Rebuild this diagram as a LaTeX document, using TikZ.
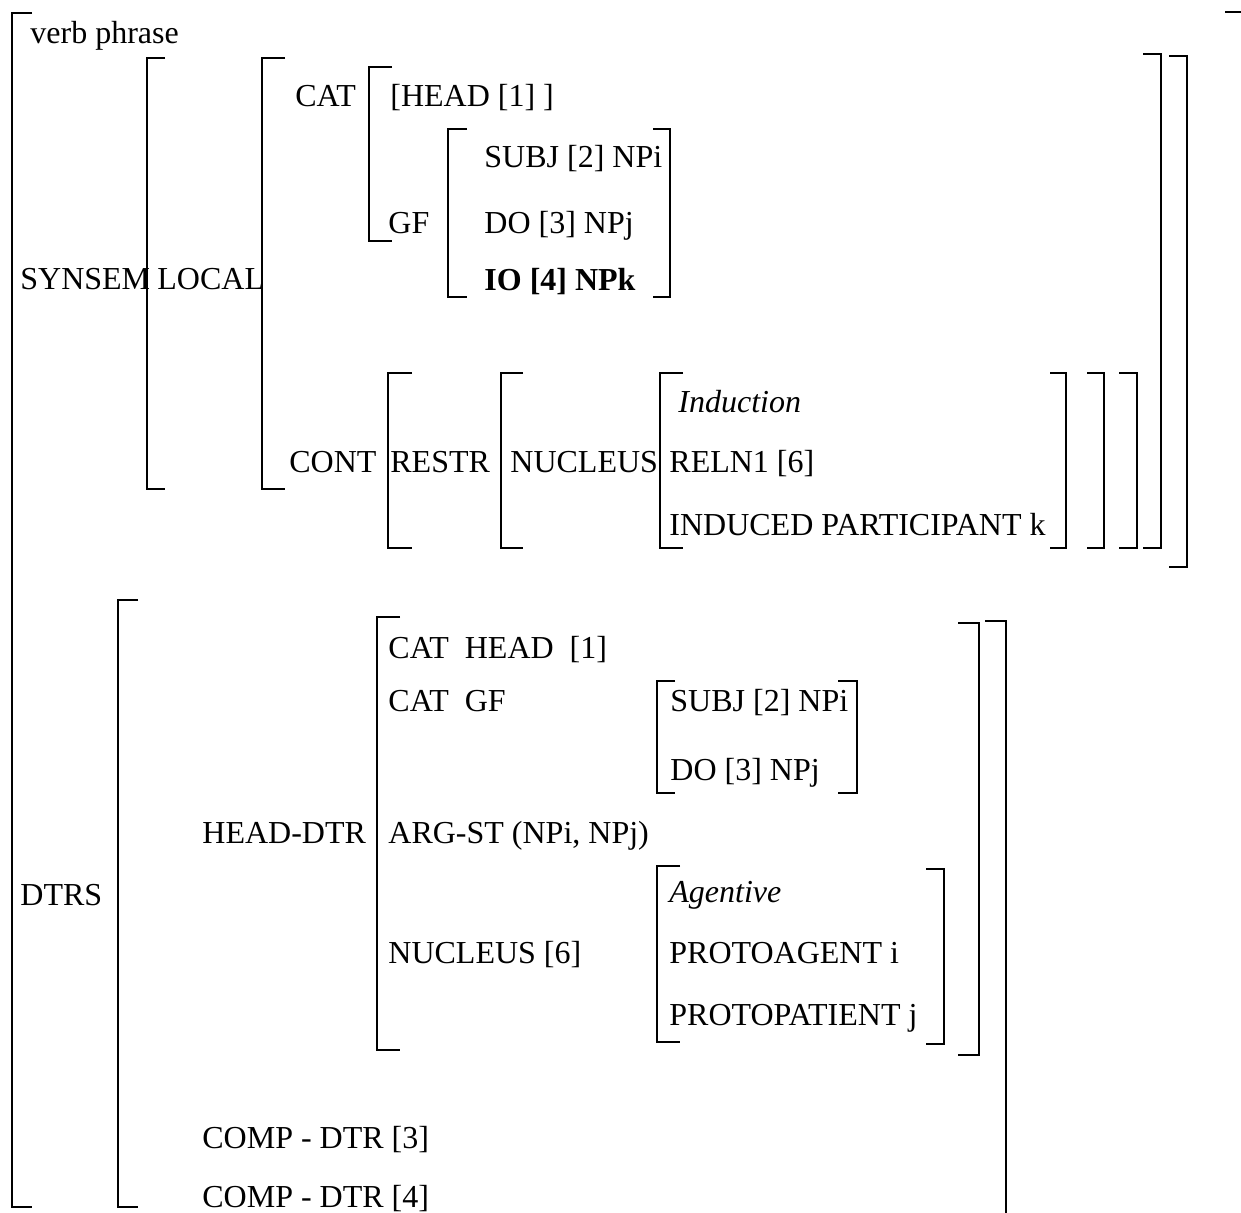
\documentclass[tikz,border=0pt]{standalone}
\usepackage{fontspec}
\setmainfont{Liberation Serif}

\begin{document}
\begin{tikzpicture}[
    x=0.5pt, y=-0.5pt,
    mytext/.style={anchor=base west, inner sep=0pt, font={\fontsize{16pt}{19pt}\selectfont}},
    br/.style={line width=1pt}
    ]
    \useasboundingbox (0,0) rectangle (1241,1212);

    % SYNSEM part
    \node[mytext] (vp) at (30,43) {verb phrase};
    \node[mytext] (synsem) at (20,289) {SYNSEM};
    \node[mytext] (local) at (157,289) {LOCAL};
    \node[mytext] (cat) at (295,106) {CAT};
    \node[mytext] (head) at (390,106) {[HEAD [1] ]};
    \node[mytext] (gf) at (388,233) {GF};
    \node[mytext] (subj) at (484,167) {SUBJ [2] NPi};
    \node[mytext] (do) at (484,233) {DO [3] NPj};
    \node[mytext] (io) at (484,290) {\textbf{IO [4] NPk}};
    \node[mytext] (cont) at (289,472) {CONT};
    \node[mytext] (restr) at (390,472) {RESTR};
    \node[mytext] (nucleus) at (510,472) {NUCLEUS};
    \node[mytext] (induction) at (678,412) {\textit{Induction}};
    \node[mytext] (reln) at (669,472) {RELN1 [6]};
    \node[mytext] (induced) at (669,535) {INDUCED PARTICIPANT k};

    % DTRS part
    \node[mytext] (dtrs) at (20,905) {DTRS};
    \node[mytext] (headdtr) at (202,843) {HEAD-DTR};
    \node[mytext] (cathead) at (388,658) {CAT\ \ HEAD\ \ [1]};
    \node[mytext] (catgf) at (388,711) {CAT\ \ GF};
    \node[mytext] (subj2) at (670,711) {SUBJ [2] NPi};
    \node[mytext] (do2) at (670,780) {DO [3] NPj};
    \node[mytext] (argst) at (388,843) {ARG-ST (NPi, NPj)};
    \node[mytext] (nucleus2) at (388,963) {NUCLEUS [6]};
    \node[mytext] (agentive) at (669,902) {\textit{Agentive}};
    \node[mytext] (protoag) at (669,963) {PROTOAGENT i};
    \node[mytext] (protopat) at (669,1025) {PROTOPATIENT j};
    \node[mytext] (comp3) at (202,1148) {COMP - DTR [3]};
    \node[mytext] (comp4) at (202,1207) {COMP - DTR [4]};

    % left brackets
    \draw[br] (32,13) -| (12,1207) -- ++(20,0);
    \draw[br] (165,58) -| (147,489) -- ++(18,0);
    \draw[br] (285,58) -| (262,489) -- ++(23,0);
    \draw[br] (392,67) -| (369,241) -- ++(23,0);
    \draw[br] (467,129) -| (448,297) -- ++(19,0);
    \draw[br] (412,373) -| (388,548) -- ++(24,0);
    \draw[br] (523,373) -| (501,548) -- ++(22,0);
    \draw[br] (683,373) -| (660,548) -- ++(23,0);
    \draw[br] (138,600) -| (118,1207) -- ++(20,0);
    \draw[br] (400,617) -| (377,1050) -- ++(23,0);
    \draw[br] (675,681) -| (657,793) -- ++(18,0);
    \draw[br] (680,866) -| (657,1042) -- ++(23,0);

    % right brackets
    \draw[br] (653,129) -| (670,297) -- ++(-17,0);
    \draw[br] (1050,373) -| (1066,548) -- ++(-16,0);
    \draw[br] (1087,373) -| (1104,548) -- ++(-17,0);
    \draw[br] (1119,373) -| (1137,548) -- ++(-18,0);
    \draw[br] (1143,54) -| (1161,548) -- ++(-18,0);
    \draw[br] (1169,56) -| (1187,567) -- ++(-18,0);
    \draw[br] (1225,12) -| (1244,1230);
    \draw[br] (838,681) -| (857,793) -- ++(-19,0);
    \draw[br] (926,869) -| (944,1044) -- ++(-18,0);
    \draw[br] (958,623) -| (979,1055) -- ++(-21,0);
    \draw[br] (985,621) -| (1006,1230);

  \end{tikzpicture}
\end{document}
